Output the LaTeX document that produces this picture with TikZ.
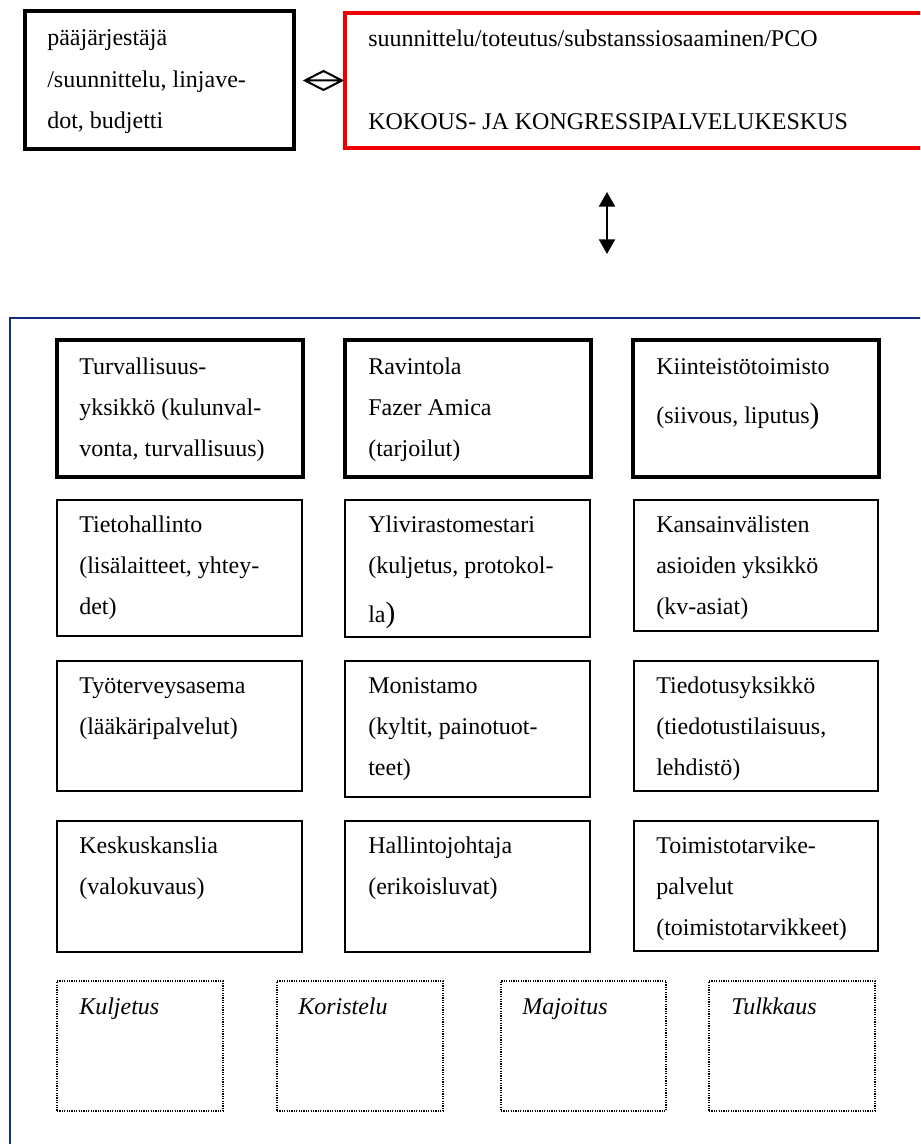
\documentclass[tikz,border=0pt]{standalone}
\usepackage{fontspec}
\setmainfont{Liberation Serif}
\usetikzlibrary{arrows.meta,fit}
\definecolor{framenavy}{RGB}{16,46,124}
\definecolor{pcored}{RGB}{238,0,0}
% left-aligned lines whose baseline is that of the first line
\newcommand{\celltext}[1]{\begin{tabular}[t]{@{}l@{}}#1\end{tabular}}
\begin{document}
\begin{tikzpicture}[x=0.75pt,y=-0.75pt,
  boxthick/.style={draw,line width=2.3pt,inner sep=0pt},
  boxthin/.style={draw,line width=1.3pt,inner sep=0pt},
  boxdot/.style={draw,line width=1.1pt,dash pattern=on 0.9pt off 0.9pt,inner sep=0pt},
  boxtext/.style={anchor=base west,inner sep=0pt,font=\fontsize{18}{31}\selectfont},
  boxitalic/.style={boxtext,font=\fontsize{18}{31}\selectfont\itshape},
]
\useasboundingbox (0,0) rectangle (920,1144);
\clip (0,0) rectangle (920,1144);

% organiser and congress centre
\node[boxthick, fit={(25,11) (294,149)}] (org) {};
\node[boxthick, line width=2.6pt, draw=pcored, fit={(345,13) (960,148)}] (pco) {};
\node[boxtext] (orgtxt) at (47,46) {\celltext{pääjärjestäjä\\/suunnittelu, linjave-\\dot, budjetti}};
\node[boxtext] (pcotxt) at (368,47) {\celltext{suunnittelu/toteutus/substanssiosaaminen/PCO\\[31pt]KOKOUS- JA KONGRESSIPALVELUKESKUS}};

% two-way link between the two top boxes
\coordinate (dl) at (305,80.5);
\coordinate (dt) at (323.5,71);
\coordinate (dr) at (342,80.5);
\coordinate (db) at (323.5,90);
\draw[line width=1.5pt, line join=miter] (dl) -- (dt) -- (dr) -- (db) -- cycle (dl) -- (dr);

% vertical two-way arrow
\coordinate (up) at (607,192);
\coordinate (down) at (607,254);
\draw[line width=1.6pt, {Triangle[width=12pt,length=11pt]}-{Triangle[width=12pt,length=11pt]}] (up) -- (down);

% outer frame of the service units
\node[draw=framenavy, line width=1.2pt, inner sep=0pt, fit={(10,318) (960,1180)}] (frame) {};

% row 1
\node[boxthick, fit={(57,340) (303,477)}] (turva) {};
\node[boxthick, fit={(345,340) (591,477)}] (ravintola) {};
\node[boxthick, fit={(633,340) (879,477)}] (kiinteisto) {};
\node[boxtext] at (79,374) {\celltext{Turvallisuus-\\yksikkö (kulunval-\\vonta, turvallisuus)}};
\node[boxtext] at (368,374) {\celltext{Ravintola\\Fazer Amica\\(tarjoilut)}};
\node[boxtext] at (656,374) {\celltext{Kiinteistötoimisto\\[5.8pt](siivous, liputus{\fontsize{22}{31}\selectfont )}}};

% row 2
\node[boxthin, fit={(57,500) (302,636)}] (tieto) {};
\node[boxthin, fit={(345,500) (590,637)}] (yli) {};
\node[boxthin, fit={(634,500) (878,631)}] (kv) {};
\node[boxtext] at (79,532) {\celltext{Tietohallinto\\(lisälaitteet, yhtey-\\det)}};
\node[boxtext] at (368,532) {\celltext{Ylivirastomestari\\(kuljetus, protokol-\\[5.8pt]la{\fontsize{22}{31}\selectfont )}}};
\node[boxtext] at (656,532) {\celltext{Kansainvälisten\\asioiden yksikkö\\(kv-asiat)}};

% row 3
\node[boxthin, fit={(57,661) (302,791)}] (tyoterveys) {};
\node[boxthin, fit={(345,661) (590,797)}] (monistamo) {};
\node[boxthin, fit={(634,661) (878,791)}] (tiedotus) {};
\node[boxtext] at (79,693) {\celltext{Työterveysasema\\(lääkäripalvelut)}};
\node[boxtext] at (368,693) {\celltext{Monistamo\\(kyltit, painotuot-\\teet)}};
\node[boxtext] at (656,693) {\celltext{Tiedotusyksikkö\\(tiedotustilaisuus,\\lehdistö)}};

% row 4
\node[boxthin, fit={(57,821) (302,952)}] (kanslia) {};
\node[boxthin, fit={(345,821) (590,952)}] (hallinto) {};
\node[boxthin, fit={(634,821) (878,951)}] (toimisto) {};
\node[boxtext] at (79,853) {\celltext{Keskuskanslia\\(valokuvaus)}};
\node[boxtext] at (368,853) {\celltext{Hallintojohtaja\\(erikoisluvat)}};
\node[boxtext] at (656,853) {\celltext{Toimistotarvike-\\palvelut\\(toimistotarvikkeet)}};

% row 5: outsourced services
\node[boxdot, fit={(57,981) (223,1111)}] (kuljetus) {};
\node[boxdot, fit={(277,981) (443,1111)}] (koristelu) {};
\node[boxdot, fit={(501,981) (666,1111)}] (majoitus) {};
\node[boxdot, fit={(709,981) (875,1111)}] (tulkkaus) {};
\node[boxitalic] at (79,1014) {Kuljetus};
\node[boxitalic] at (298,1014) {Koristelu};
\node[boxitalic] at (522,1014) {Majoitus};
\node[boxitalic] at (731,1014) {Tulkkaus};
\end{tikzpicture}
\end{document}
